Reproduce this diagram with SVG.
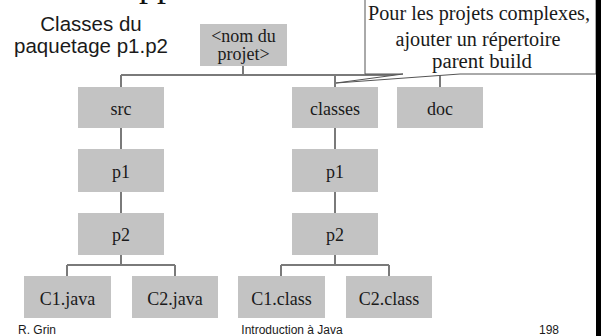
<svg xmlns="http://www.w3.org/2000/svg" width="601" height="336" viewBox="0 0 601 336">
<style>
.box{fill:#c3c3c3;}
.t{font-family:"Liberation Serif","Times New Roman",serif;font-size:18px;fill:#1a1a1a;text-anchor:middle;}
.c{font-family:"Liberation Serif","Times New Roman",serif;font-size:20px;fill:#1a1a1a;text-anchor:middle;}
.s{font-family:"Liberation Sans",Arial,sans-serif;fill:#1a1a1a;}
.ln{stroke:#7a7a7a;stroke-width:2;fill:none;}
</style>
<rect width="601" height="336" fill="#ffffff"/>
<text x="139" y="-4" style="font-family:'Liberation Serif',serif;font-size:36px;fill:#111">pp</text>
<text class="s" x="91" y="31" text-anchor="middle" style="font-size:20.5px">Classes du</text>
<text class="s" x="91" y="53" text-anchor="middle" style="font-size:20.5px">paquetage p1.p2</text>
<g id="connectors">
<path class="ln" d="M243,66 V75 M121,75 H440 M121,75 V87 M335,75 V87 M440,75 V87"/>
<path class="ln" d="M121,128 V149 M121,192 V213 M121,255 V265 M67,265 H175 M67,265 V276 M175,265 V276"/>
<path class="ln" d="M335,128 V149 M335,192 V213 M335,255 V265 M281,265 H389 M281,265 V276 M389,265 V276"/>
</g>
<g id="root"><rect class="box" x="200" y="24" width="87" height="42"/><text class="t" x="243.5" y="42">&lt;nom du</text><text class="t" x="243.5" y="60">projet&gt;</text></g>
<g id="src"><rect class="box" x="78" y="87" width="86" height="41"/><text class="t" x="121" y="115">src</text></g>
<g id="classes"><rect class="box" x="292" y="87" width="86" height="41"/><text class="t" x="335" y="115">classes</text></g>
<g id="doc"><rect class="box" x="397" y="87" width="86" height="41"/><text class="t" x="440" y="115">doc</text></g>
<g id="src-p1"><rect class="box" x="78" y="149" width="86" height="43"/><text class="t" x="121" y="178">p1</text></g>
<g id="src-p2"><rect class="box" x="78" y="213" width="86" height="42"/><text class="t" x="121" y="241">p2</text></g>
<g id="classes-p1"><rect class="box" x="292" y="149" width="86" height="43"/><text class="t" x="335" y="178">p1</text></g>
<g id="classes-p2"><rect class="box" x="292" y="213" width="86" height="42"/><text class="t" x="335" y="241">p2</text></g>
<g id="c1java"><rect class="box" x="24" y="276" width="87" height="42"/><text class="t" x="67.5" y="305">C1.java</text></g>
<g id="c2java"><rect class="box" x="132" y="276" width="86" height="42"/><text class="t" x="175" y="305">C2.java</text></g>
<g id="c1class"><rect class="box" x="238" y="276" width="87" height="42"/><text class="t" x="281.5" y="305">C1.class</text></g>
<g id="c2class"><rect class="box" x="346" y="276" width="86" height="42"/><text class="t" x="389" y="305">C2.class</text></g>
<g id="callout">
<path d="M365,-2 V74 H403 L336,83 L460,74 H596 V-2 Z" fill="#ffffff" stroke="#555" stroke-width="1"/>
<text class="c" x="479" y="20" textLength="222" lengthAdjust="spacingAndGlyphs">Pour les projets complexes,</text>
<text class="c" x="478" y="46" textLength="165" lengthAdjust="spacingAndGlyphs">ajouter un répertoire</text>
<text class="c" x="482" y="68" textLength="100" lengthAdjust="spacingAndGlyphs">parent build</text>
</g>
<rect x="596" y="0" width="5" height="336" fill="#000"/>
<text class="s" x="18" y="334" style="font-size:12px">R. Grin</text>
<text class="s" x="292" y="334" text-anchor="middle" style="font-size:12px">Introduction à Java</text>
<text class="s" x="549" y="334" text-anchor="middle" style="font-size:12px">198</text>
</svg>
